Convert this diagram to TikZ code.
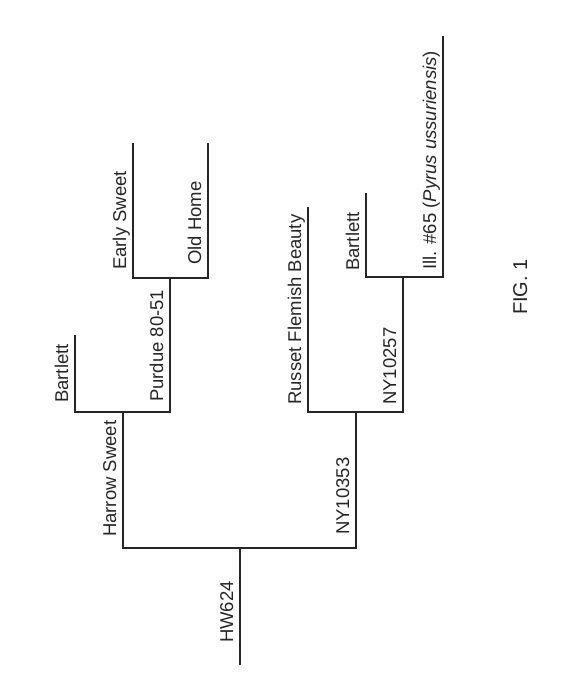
\documentclass[tikz,border=0pt]{standalone}
\usepackage{fontspec}
\setmainfont{Liberation Sans}
\usepackage{tikz}
\pgfdeclarelayer{edgelayer}
\pgfdeclarelayer{nodelayer}
\pgfsetlayers{edgelayer,nodelayer,main}
\definecolor{ink}{gray}{0.15}
\tikzstyle{joint}=[coordinate]
\tikzstyle{cultivar}=[rotate=90,anchor=base west,inner sep=0pt,text=ink,font=\fontsize{18.5}{22}\selectfont]
\tikzstyle{rootcultivar}=[style=cultivar,anchor=base]
\tikzstyle{caption}=[rotate=90,anchor=base,inner sep=0pt,text=ink,font=\fontsize{20}{24}\selectfont]
\tikzstyle{branch}=[draw=ink,line width=1.1pt]

\begin{document}
\begin{tikzpicture}[x=1pt,y=-1pt]
	\useasboundingbox (0, 0) rectangle (573, 700);
	\begin{pgfonlayer}{nodelayer}
		\node [style=joint] (0) at (240, 665) {};
		\node [style=joint] (1) at (240, 548) {};
		\node [style=joint] (2) at (123, 412) {};
		\node [style=joint] (3) at (356, 412) {};
		\node [style=joint] (4) at (75, 335) {};
		\node [style=joint] (5) at (170, 278) {};
		\node [style=joint] (6) at (133, 143) {};
		\node [style=joint] (7) at (208, 143) {};
		\node [style=joint] (8) at (308, 207) {};
		\node [style=joint] (9) at (403, 277) {};
		\node [style=joint] (10) at (366, 193) {};
		\node [style=joint] (11) at (443, 36) {};
		\node [style=rootcultivar] (12) at (233, 612) {HW624};
		\node [style=cultivar] (13) at (116, 537) {Harrow Sweet};
		\node [style=cultivar] (14) at (68, 403) {Bartlett};
		\node [style=cultivar] (15) at (163, 402) {Purdue 80-51};
		\node [style=cultivar] (16) at (126, 270) {Early Sweet};
		\node [style=cultivar] (17) at (201, 265) {Old Home};
		\node [style=cultivar] (18) at (349, 535) {NY10353};
		\node [style=cultivar] (19) at (301, 405) {Russet Flemish Beauty};
		\node [style=cultivar] (20) at (396, 405) {NY10257};
		\node [style=cultivar] (21) at (359, 271) {Bartlett};
		\node [style=cultivar] (22) at (436, 270) {Ill. \#65 (\textit{Pyrus ussuriensis})};
		\node [style=caption] (23) at (527, 287) {FIG. 1};
	\end{pgfonlayer}
	\begin{pgfonlayer}{edgelayer}
		\draw [style=branch] (0) to (1);
		\draw [style=branch] (1) -| (2);
		\draw [style=branch] (1) -| (3);
		\draw [style=branch] (2) -| (4);
		\draw [style=branch] (2) -| (5);
		\draw [style=branch] (5) -| (6);
		\draw [style=branch] (5) -| (7);
		\draw [style=branch] (3) -| (8);
		\draw [style=branch] (3) -| (9);
		\draw [style=branch] (9) -| (10);
		\draw [style=branch] (9) -| (11);
	\end{pgfonlayer}
\end{tikzpicture}
\end{document}
